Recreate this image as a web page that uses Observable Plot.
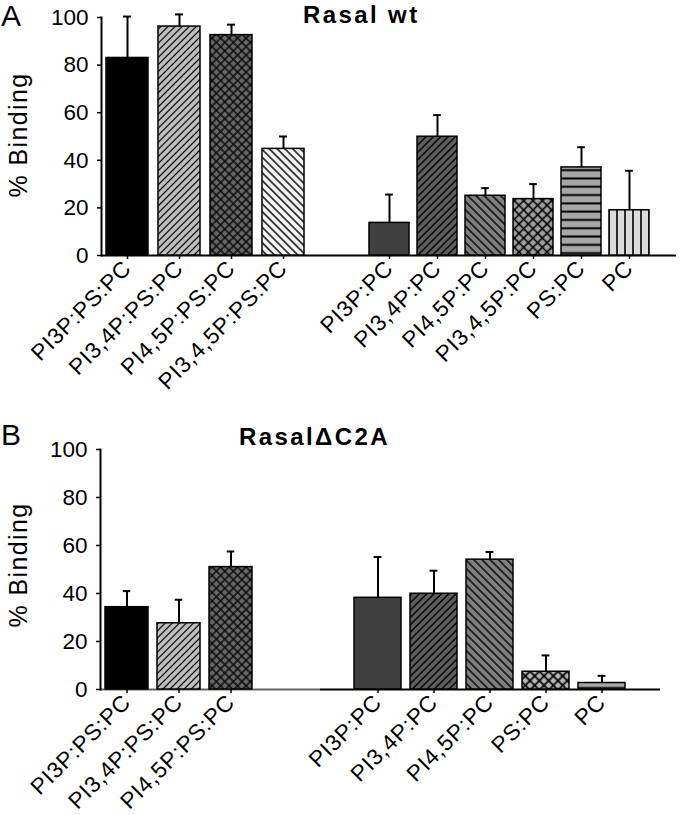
<!DOCTYPE html>
<html><head><meta charset="utf-8">
<script src="https://cdn.jsdelivr.net/npm/d3@7"></script>
<script src="https://cdn.jsdelivr.net/npm/@observablehq/plot@0.6"></script>
<style>
body{margin:0;background:#fff;font-family:"Liberation Sans",Arial,sans-serif;color:#000}
#root{position:relative;width:680px;height:815px;overflow:hidden}
.panel{position:absolute;left:0;width:680px}
.row{display:flex;position:absolute;left:0;top:0}
.row svg{display:block;overflow:visible}
.letter{position:absolute;font-size:30px;line-height:1;z-index:2}
.title{position:absolute;font-weight:bold;font-size:24px;line-height:1;letter-spacing:2.4px;white-space:nowrap;z-index:2}
.ylab{position:absolute;font-size:25px;line-height:1;letter-spacing:1.4px;white-space:nowrap;transform:translate(-50%,-50%) rotate(-90deg);z-index:2}
svg [aria-label="x-axis tick label"] text{letter-spacing:0.8px}
</style></head><body>
<svg width="0" height="0" style="position:absolute"><defs id="defs"></defs></svg>
<div id="root"></div>
<script>
// ---- data ----
const titles = ["Rasal wt", "Rasal\u0394C2A"];
const panelLetters = ["A", "B"];
const yLabel = "% Binding";
const yTicks = [0, 20, 40, 60, 80, 100];

const catsA1 = ["PI3P:PS:PC", "PI3,4P:PS:PC", "PI4,5P:PS:PC", "PI3,4,5P:PS:PC"];
const meanA1 = [83, 96.2, 92.6, 44.8];
const errA1 = [17.4, 5.1, 4.4, 5.2];
const catsA2 = ["PI3P:PC", "PI3,4P:PC", "PI4,5P:PC", "PI3,4,5P:PC", "PS:PC", "PC"];
const meanA2 = [13.7, 49.9, 25.1, 23.7, 37, 19];
const errA2 = [11.9, 9.1, 3.2, 6.3, 8.5, 16.6];

const catsB1 = ["PI3P:PS:PC", "PI3,4P:PS:PC", "PI4,5P:PS:PC"];
const meanB1 = [34.3, 27.6, 51];
const errB1 = [6.7, 9.8, 6.5];
const catsB2 = ["PI3P:PC", "PI3,4P:PC", "PI4,5P:PC", "PS:PC", "PC"];
const meanB2 = [38.2, 39.9, 54.1, 7.4, 2.7];
const errB2 = [17, 9.6, 3.2, 6.8, 3];

// ---- styles (patterns) ----
const NS = "http://www.w3.org/2000/svg";
const defs = document.getElementById("defs");
function pat(id, bg, size, lines, rot, sw) {
  const p = document.createElementNS(NS, "pattern");
  p.setAttribute("id", id);
  p.setAttribute("patternUnits", "userSpaceOnUse");
  p.setAttribute("width", size); p.setAttribute("height", size);
  if (rot) p.setAttribute("patternTransform", `rotate(${rot})`);
  const r = document.createElementNS(NS, "rect");
  r.setAttribute("width", size); r.setAttribute("height", size); r.setAttribute("fill", bg);
  p.appendChild(r);
  for (const l of lines) {
    const ln = document.createElementNS(NS, "line");
    if (l === "v") { ln.setAttribute("x1", size/2); ln.setAttribute("x2", size/2); ln.setAttribute("y1", -1); ln.setAttribute("y2", size+1); }
    else { ln.setAttribute("y1", size/2); ln.setAttribute("y2", size/2); ln.setAttribute("x1", -1); ln.setAttribute("x2", size+1); }
    ln.setAttribute("stroke", "#000"); ln.setAttribute("stroke-width", sw);
    p.appendChild(ln);
  }
  defs.appendChild(p);
}
pat("fwdLight", "#c4c4c4", 5, ["v"], 45, 1.3);
pat("crossDark", "#666", 6, ["v", "h"], 45, 1.3);
pat("backWhite", "#f4f4f4", 5.5, ["v"], -45, 1.4);
pat("fwdDark", "#5e5e5e", 5.2, ["v"], 45, 1.4);
pat("backMid", "#808080", 5.8, ["v"], -45, 1.4);
pat("crossLight", "#a0a0a0", 6.6, ["v", "h"], 45, 1.6);
pat("crossLightB", "#b8b8b8", 6.6, ["v", "h"], 45, 1.8);
pat("horiz", "#a8a8a8", 8.3, ["h"], 0, 2);
pat("vert", "#dcdcdc", 8, ["v"], 0, 1.6);

const fillA1 = ["#000", "url(#fwdLight)", "url(#crossDark)", "url(#backWhite)"];
const fillA2 = ["#404040", "url(#fwdDark)", "url(#backMid)", "url(#crossLight)", "url(#horiz)", "url(#vert)"];
const fillB1 = ["#000", "url(#fwdLight)", "url(#crossDark)"];
const fillB2 = ["#404040", "url(#fwdDark)", "url(#backMid)", "url(#crossLightB)", "url(#horiz)"];

function barPlot({cats, means, errs, fills, width, height, mt, mb, ml, mr, pi, po, align, yAxis, baseColor}) {
  const data = cats.map((c, i) => ({cat: c, v: means[i], e: errs[i], f: fills[i]}));
  const bw = d3.scaleBand().domain(cats).range([ml, width - mr]).paddingInner(pi).paddingOuter(po).align(align).bandwidth();
  const ins = Math.max(0, (bw - 8) / 2);
  const marks = [
    Plot.ruleY([0], {stroke: baseColor || "#000", strokeWidth: 2}),
    Plot.barY(data, {x: "cat", y: "v", fill: "f", stroke: "#000", strokeWidth: 1.5}),
    Plot.ruleX(data, {x: "cat", y1: "v", y2: d => d.v + d.e, stroke: "#000", strokeWidth: 2}),
    Plot.tickY(data, {x: "cat", y: d => d.v + d.e, stroke: "#000", strokeWidth: 2, insetLeft: ins, insetRight: ins}),
    Plot.axisX({tickRotate: -45, tickSize: 4, tickPadding: 5, fontSize: 22.5, label: null, strokeWidth: 1.5})
  ];
  if (yAxis) {
    marks.push(Plot.axisY({ticks: yTicks, tickSize: 4, tickPadding: 9, fontSize: 22.5, label: null, strokeWidth: 1.5}));
    marks.push(Plot.frame({anchor: "left", stroke: "#000", strokeWidth: 2}));
  }
  return Plot.plot({
    width, height,
    marginTop: mt, marginBottom: mb, marginLeft: ml, marginRight: mr,
    style: {fontFamily: "'Liberation Sans', Arial, sans-serif", fontSize: "22px", color: "#000", background: "transparent", overflow: "visible"},
    x: {domain: cats, paddingInner: pi, paddingOuter: po, align},
    y: {domain: [0, 100], axis: yAxis ? undefined : null},
    color: {type: "identity"},
    marks
  });
}

const root = document.getElementById("root");
function makePanel(idx, top, h, letterTop, titleLeft, titleTop, ylabTop, plots) {
  const p = document.createElement("div");
  p.className = "panel"; p.style.top = top + "px"; p.style.height = h + "px";
  const row = document.createElement("div"); row.className = "row";
  plots.forEach(pl => row.appendChild(pl));
  p.appendChild(row);
  const L = document.createElement("div"); L.className = "letter"; L.textContent = panelLetters[idx];
  L.style.left = "1px"; L.style.top = letterTop + "px"; p.appendChild(L);
  const T = document.createElement("div"); T.className = "title"; T.textContent = titles[idx];
  T.style.left = titleLeft + "px"; T.style.top = titleTop + "px"; p.appendChild(T);
  const Y = document.createElement("div"); Y.className = "ylab"; Y.textContent = yLabel;
  Y.style.left = "18px"; Y.style.top = ylabTop + "px"; p.appendChild(Y);
  root.appendChild(p);
}

makePanel(0, 0, 410, 1, 303, 3, 135, [
  barPlot({cats: catsA1, means: meanA1, errs: errA1, fills: fillA1, width: 309, height: 410, mt: 17, mb: 155, ml: 101, mr: 0, pi: 0.192, po: 0.096, align: 0.5, yAxis: true}),
  barPlot({cats: catsA2, means: meanA2, errs: errA2, fills: fillA2, width: 371, height: 410, mt: 17, mb: 155, ml: 0, mr: 4, pi: 0.16, po: 0.895, align: 0.689, yAxis: false})
]);
makePanel(1, 410, 405, 10, 239, 15, 155, [
  barPlot({cats: catsB1, means: meanB1, errs: errB1, fills: fillB1, width: 320, height: 405, mt: 39, mb: 126, ml: 100, mr: 0, pi: 0.167, po: 0.691, align: 0.0735, yAxis: true, baseColor: "#666"}),
  barPlot({cats: catsB2, means: meanB2, errs: errB2, fills: fillB2, width: 360, height: 405, mt: 39, mb: 126, ml: 0, mr: 20, pi: 0.164, po: 0.594, align: 0.497, yAxis: false})
]);
</script>
</body></html>
